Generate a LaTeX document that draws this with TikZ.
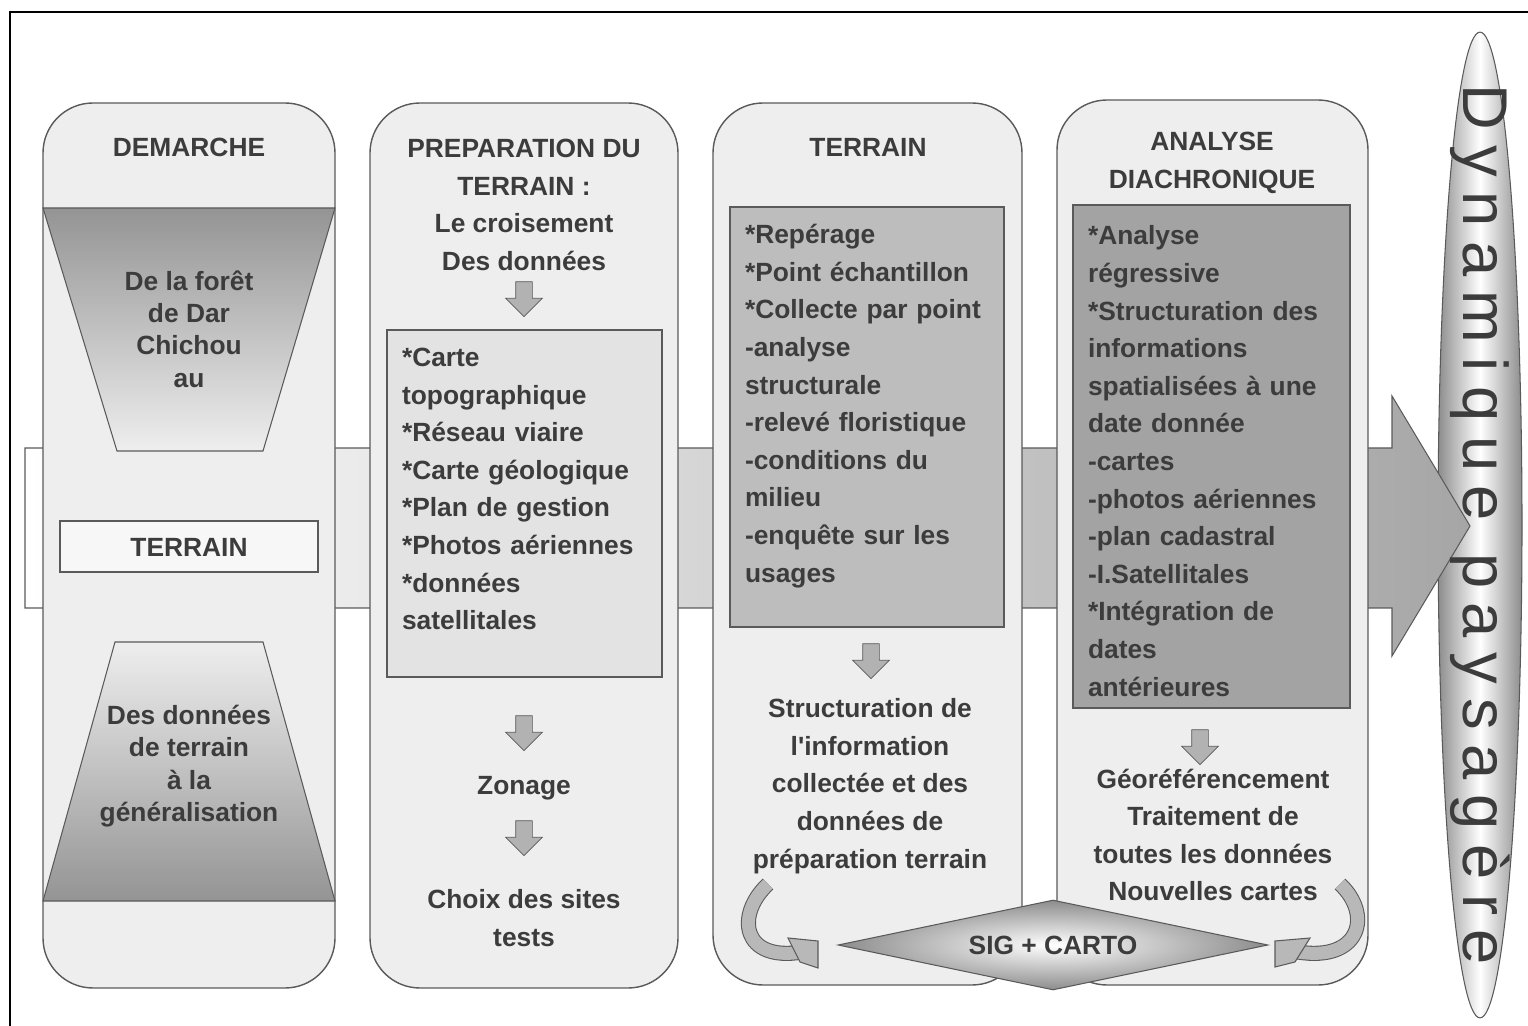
\documentclass[tikz,border=0pt]{standalone}
\usepackage{fontspec}
\setmainfont{Liberation Sans}
\newfontfamily\dynfont[LetterSpace=23]{Liberation Sans}
\usetikzlibrary{shapes.geometric, shapes.arrows}
\definecolor{ink}{HTML}{3C3C3C}
\definecolor{colfill}{HTML}{EEEEEE}
\definecolor{edge}{HTML}{5A5A5A}

\begin{document}
\begin{tikzpicture}[x=0.02cm, y=-0.02cm,
    col/.style={draw=edge, line width=0.8pt, fill=colfill, rounded corners=1cm},
    inbox/.style={draw=edge, line width=0.6pt},
    coltitle/.style={text=ink, font=\bfseries\fontsize{15}{21.4}\selectfont, inner sep=0pt, align=center},
    tight/.style={font=\bfseries\fontsize{15}{18.4}\selectfont},
    items/.style={text=ink, font=\bfseries\fontsize{15}{21.4}\selectfont, inner sep=0pt,
                  align=left, text width=5.4cm},
    darrow/.style={single arrow, shape border rotate=270, draw=edge, fill=black!30,
                   minimum height=0.7cm, inner sep=0.16cm, single arrow head extend=0.2cm},
    curvearrow/.style={draw=edge, line width=0.6pt, double=black!28, double distance=0.26cm},
    curvetip/.style={draw=edge, line width=0.6pt, fill=black!28},
]
\useasboundingbox (0,0) rectangle (1528,1026);
\draw[line width=1.6pt] (10,1026) -- (10,12) -- (1528,12);

% ellipse behind the big arrow
\node[ellipse, minimum width=1.68cm, minimum height=19.72cm, draw=edge, line width=0.6pt,
      left color=black!45, right color=black!45, middle color=white] (dynshape) at (1480,525) {};

% band
\shadedraw[left color=white, right color=black!35, draw=edge, line width=0.6pt]
  (25,448) -- (1392,448) -- (1392,396) -- (1470,526) -- (1392,656) -- (1392,608) -- (25,608) -- cycle;

% columns
\draw[col] (43,103) rectangle (335,988);
\draw[col] (370,103) rectangle (678,988);
\draw[col] (713,103) rectangle (1022,985);
\draw[col] (1057,100) rectangle (1368,985);

% column 1
\shadedraw[top color=black!42, bottom color=colfill, draw=edge, line width=0.6pt]
  (43,208) -- (335,208) -- (263,451) -- (117,451) -- cycle;
\shadedraw[top color=colfill, bottom color=black!42, draw=edge, line width=0.6pt]
  (115,642) -- (263,642) -- (335,901) -- (43,901) -- cycle;
\draw[inbox, fill=black!3] (60,521) rectangle (318,572);
\node[coltitle] (demarche) at (189,147) {DEMARCHE};
\node[coltitle, tight] (foret) at (189,329) {De la forêt\\de Dar\\Chichou\\au};
\node[coltitle] (terrain1) at (189,547) {TERRAIN};
\node[coltitle, tight] (generalisation) at (189,766) {Des données\\de terrain\\à la\\généralisation};

% column 2
\node[coltitle] (prep) at (524,205) {PREPARATION DU\\TERRAIN :\\Le croisement\\Des données};
\node[darrow] (d1) at (524,295) {};
\draw[inbox, fill=black!11] (387,330) rectangle (662,677);
\node[items] (sources) at (537,489) {*Carte\\topographique\\{}*Réseau viaire\\{}*Carte géologique\\{}*Plan de gestion\\{}*Photos aériennes\\{}*données\\satellitales};
\node[darrow] (d2) at (524,729) {};
\node[coltitle] (zonage) at (524,788) {Zonage};
\node[darrow] (d3) at (524,834) {};
\node[coltitle] (choix) at (524,918) {Choix des sites\\tests};

% column 3
\node[coltitle] (terrain2) at (868,147) {TERRAIN};
\draw[inbox, fill=black!26] (730,207) rectangle (1004,627);
\node[items] (collecte) at (880,406) {*Repérage\\{}*Point échantillon\\{}*Collecte par point\\-analyse\\structurale\\-relevé floristique\\-conditions du\\milieu\\-enquête sur les\\usages};
\node[darrow] (d4) at (871,657) {};
\node[coltitle] (structuration) at (870,786) {Structuration de\\l\textquotesingle information\\collectée et des\\données de\\préparation terrain};

% column 4
\node[coltitle] (analyse) at (1212,163) {ANALYSE\\DIACHRONIQUE};
\draw[inbox, fill=black!36] (1073,205) rectangle (1350,708);
\node[items] (diachro) at (1223,461) {*Analyse\\régressive\\{}*Structuration des\\informations\\spatialisées à une\\date donnée\\-cartes\\-photos aériennes\\-plan cadastral\\-I.Satellitales\\{}*Intégration de\\dates\\antérieures};
\node[darrow] (d5) at (1200,743) {};
\node[coltitle] (georef) at (1213,835) {Géoréférencement\\Traitement de\\toutes les données\\Nouvelles cartes};

% SIG + CARTO
\draw[curvearrow] (768,884) .. controls (735,915) and (742,962) .. (802,952);
\draw[curvetip] (788,938) -- (818,941) -- (818,968) -- (800,962) -- cycle;
\draw[curvearrow] (1340,884) .. controls (1373,915) and (1360,962) .. (1298,952);
\draw[curvetip] (1310,938) -- (1275,941) -- (1275,967) -- (1295,962) -- cycle;
\node[diamond, aspect=4.8, minimum width=8.6cm, minimum height=1.8cm, draw=edge, line width=0.6pt,
      inner color=white, outer color=black!45, coltitle] (sig) at (1053,945) {SIG + CARTO};

% title along the ellipse
\node[rotate=-90, text=ink, font=\dynfont\fontsize{36}{36}\selectfont] (dyn) at (1480,525) {Dynamique paysagère};
\end{tikzpicture}
\end{document}
